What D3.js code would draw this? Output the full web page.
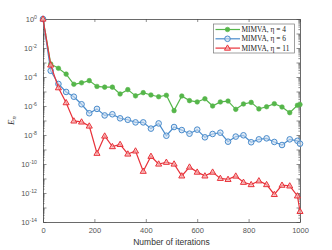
<!DOCTYPE html>
<html>
<head>
<meta charset="utf-8">
<script src="https://cdn.jsdelivr.net/npm/d3@7"></script>
<style>
  body { margin: 0; background: #fff; }
  svg { display: block; }
</style>
</head>
<body>
<svg width="332" height="250"></svg>
<script>
const svg = d3.select("svg");

// iteration index of every marker
const iterations = [0, 30, 60, 90, 120, 150, 180, 210, 240, 270, 300, 330, 360, 390, 420,
  450, 480, 510, 540, 570, 600, 630, 660, 690, 720, 750, 780, 810, 840, 870, 900, 930,
  960, 990, 1000];

// log10 of E_n
const eta4 = [0, -3.1, -3.4, -3.8, -4.5, -4.4, -4.25, -4.65, -4.7, -4.7, -5.17, -4.87,
  -5.3, -5.08, -5.24, -5.36, -5.26, -6.32, -5.31, -5.63, -5.72, -5.5, -6.0, -5.72, -5.66,
  -6.23, -5.86, -5.75, -6.2, -6.05, -5.84, -6.07, -6.46, -5.95, -5.9];
const eta6 = [0, -3.57, -4.48, -5.03, -5.36, -5.88, -6.5, -6.2, -6.65, -6.57, -6.85, -6.95,
  -7.13, -7.13, -7.56, -7.2, -8.05, -7.45, -7.66, -7.91, -7.63, -8.16, -7.93, -7.84, -8.46,
  -8.11, -8.02, -8.5, -8.3, -8.23, -8.48, -8.69, -8.3, -8.4, -8.6];
const eta11 = [0, -3.17, -4.74, -5.77, -7.03, -7.1, -7.38, -9.26, -8.07, -8.8, -8.65, -9.31,
  -9.1, -10.5, -9.47, -10.0, -9.88, -10.0, -10.82, -10.21, -10.56, -10.82, -10.56, -10.99,
  -11.06, -10.83, -11.26, -11.42, -11.16, -11.42, -12.1, -11.46, -11.51, -12.2, -13.27];

const seriesNames = ["MIMVA, η = 4", "MIMVA, η = 6", "MIMVA, η = 11"];
const xTicks = [0, 200, 400, 600, 800, 1000];
const yLabelExps = [0, -2, -4, -6, -8, -10, -12, -14];

const series = [
  { name: seriesNames[0], vals: eta4, color: "#55b64a", marker: "dot" },
  { name: seriesNames[1], vals: eta6, color: "#4a8ccc", marker: "circle" },
  { name: seriesNames[2], vals: eta11, color: "#e8323a", marker: "tri" }
];

const pLeft = 43, pRight = 300, pTop = 19, pBottom = 222;

const x = d3.scaleLinear().domain([0, 1000]).range([pLeft, pRight]);
const y = d3.scaleLog().domain([1e-14, 1]).range([pBottom, pTop]);

const axisColor = "#444";
const tickFont = "Liberation Sans, Arial, sans-serif";

// minor / major log ticks
const majors = d3.range(-14, 1).map(e => Math.pow(10, e));
const minors = [];
for (let e = -14; e < 0; e++) {
  for (let m = 2; m <= 9; m++) minors.push(m * Math.pow(10, e));
}

function styleAxis(g) {
  g.select(".domain").attr("stroke", axisColor).attr("stroke-width", 0.8);
  g.selectAll(".tick line").attr("stroke", axisColor).attr("stroke-width", 0.6);
}

// left axis
const gl = svg.append("g").attr("transform", `translate(${pLeft},0)`);
gl.call(d3.axisLeft(y).tickValues(minors).tickSizeInner(-1.6).tickSizeOuter(0).tickFormat(""))
  .call(styleAxis);
const gl2 = svg.append("g").attr("transform", `translate(${pLeft},0)`);
gl2.call(d3.axisLeft(y).tickValues(majors).tickSizeInner(-3.5).tickSizeOuter(0).tickFormat(""))
  .call(styleAxis);
gl2.select(".domain").remove();

// right axis
const gr = svg.append("g").attr("transform", `translate(${pRight},0)`);
gr.call(d3.axisRight(y).tickValues(minors).tickSizeInner(-1.6).tickSizeOuter(0).tickFormat(""))
  .call(styleAxis);
const gr2 = svg.append("g").attr("transform", `translate(${pRight},0)`);
gr2.call(d3.axisRight(y).tickValues(majors).tickSizeInner(-3.5).tickSizeOuter(0).tickFormat(""))
  .call(styleAxis);
gr2.select(".domain").remove();

// y tick labels 10^k
const yl = svg.append("g")
  .attr("font-family", tickFont)
  .attr("fill", "#555");
yLabelExps.forEach(e => {
  const t = yl.append("text")
    .attr("x", pLeft - 6)
    .attr("y", y(Math.pow(10, e)) + 3)
    .attr("text-anchor", "end")
    .attr("font-size", 7.5);
  t.append("tspan").text("10");
  t.append("tspan")
    .attr("dy", -3.5)
    .attr("font-size", 5.2)
    .text(e === 0 ? "0" : "-" + Math.abs(e));
});

// bottom / top axes
const gb = svg.append("g").attr("transform", `translate(0,${pBottom})`);
gb.call(d3.axisBottom(x).tickValues(xTicks).tickFormat(d3.format("d"))
    .tickSizeInner(-3).tickSizeOuter(0).tickPadding(6))
  .call(styleAxis);
gb.selectAll(".tick text")
  .attr("font-family", tickFont)
  .attr("font-size", 7.5)
  .attr("fill", "#555");

const gt = svg.append("g").attr("transform", `translate(0,${pTop})`);
gt.call(d3.axisTop(x).tickValues(xTicks).tickSizeInner(-3).tickSizeOuter(0).tickFormat(""))
  .call(styleAxis);

// axis titles
svg.append("text")
  .attr("x", (pLeft + pRight) / 2)
  .attr("y", 245)
  .attr("text-anchor", "middle")
  .attr("font-family", tickFont)
  .attr("font-size", 8.5)
  .attr("fill", "#333")
  .text("Number of iterations");

const yt = svg.append("text")
  .attr("transform", `translate(14,${(pTop + pBottom) / 2}) rotate(-90)`)
  .attr("text-anchor", "middle")
  .attr("font-family", "Liberation Serif, Times New Roman, serif")
  .attr("font-style", "italic")
  .attr("font-size", 9)
  .attr("fill", "#333");
yt.append("tspan").text("E");
yt.append("tspan").attr("dy", 2).attr("font-size", 6.5).text("n");

// lines and markers
const line = d3.line()
  .x((d, i) => x(iterations[i]))
  .y(d => y(Math.pow(10, d)));

function drawMarker(g, type, color, cx, cy) {
  if (type === "dot") {
    g.append("circle").attr("cx", cx).attr("cy", cy).attr("r", 2.3)
      .attr("fill", color).attr("stroke", color).attr("stroke-width", 0.6);
  } else if (type === "circle") {
    g.append("circle").attr("cx", cx).attr("cy", cy).attr("r", 2.8)
      .attr("fill", "#cfe0f2").attr("fill-opacity", 0.6)
      .attr("stroke", color).attr("stroke-width", 1);
  } else {
    const s = 3.2;
    g.append("path")
      .attr("d", `M${cx},${cy - s}L${cx + s * 0.95},${cy + s * 0.65}L${cx - s * 0.95},${cy + s * 0.65}Z`)
      .attr("fill", "#f6b5b5").attr("fill-opacity", 0.7)
      .attr("stroke", color).attr("stroke-width", 1);
  }
}

series.forEach(s => {
  svg.append("path")
    .datum(s.vals)
    .attr("d", line)
    .attr("fill", "none")
    .attr("stroke", s.color)
    .attr("stroke-width", 1.2);
  const mg = svg.append("g");
  s.vals.forEach((v, i) => drawMarker(mg, s.marker, s.color, x(iterations[i]), y(Math.pow(10, v))));
});

// legend
const lg = svg.append("g");
lg.append("rect")
  .attr("x", 213.5).attr("y", 24)
  .attr("width", 81).attr("height", 29)
  .attr("fill", "#fff")
  .attr("stroke", "#777")
  .attr("stroke-width", 0.7);
series.forEach((s, i) => {
  const ry = 29.5 + i * 9.3;
  lg.append("line")
    .attr("x1", 215.5).attr("x2", 240)
    .attr("y1", ry).attr("y2", ry)
    .attr("stroke", s.color).attr("stroke-width", 1.2);
  drawMarker(lg, s.marker, s.color, 227.5, ry);
  lg.append("text")
    .attr("x", 241.5)
    .attr("y", ry + 2.6)
    .attr("font-family", "Liberation Serif, Times New Roman, serif")
    .attr("font-size", 7.4)
    .attr("fill", "#222")
    .text(s.name);
});
</script>
</body>
</html>
